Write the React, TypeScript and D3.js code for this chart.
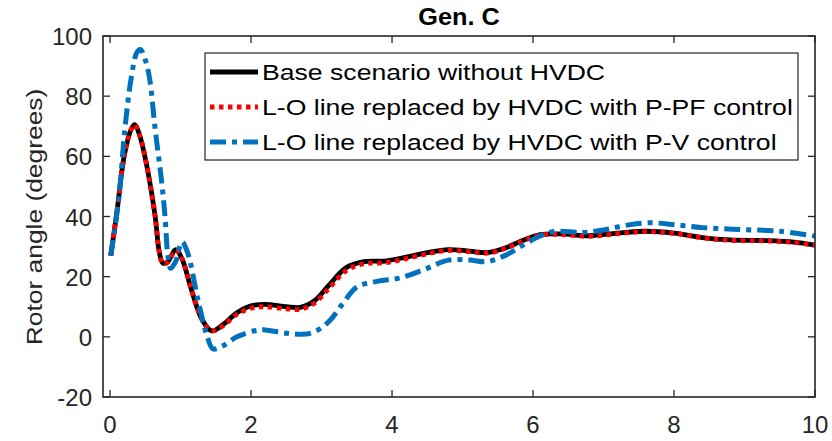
import React from "react";
import * as d3 from "d3";

const baseT = [0.01, 0.1, 0.2, 0.3, 0.35, 0.42, 0.52, 0.64, 0.7, 0.75, 0.82, 0.93, 1.02, 1.15, 1.3, 1.44, 1.6, 1.8, 2.0, 2.2, 2.5, 2.7, 2.9, 3.1, 3.35, 3.6, 3.9, 4.2, 4.5, 4.8, 5.1, 5.35, 5.6, 5.85, 6.1, 6.4, 6.8, 7.2, 7.6, 8.0, 8.4, 8.8, 9.3, 9.7, 10];
const baseV = [27, 42, 60, 69, 70.5, 67, 57, 40, 28, 24.5, 25, 29, 26, 16, 6, 2, 4, 8, 10.3, 10.8, 10, 9.8, 12, 17, 23, 25, 25.2, 26.5, 28, 29, 28.5, 28, 29.5, 32, 34, 34.2, 33.6, 34.5, 35.1, 34.5, 33, 32.2, 32, 31.5, 30.5];
const ppfV = [27, 42, 60, 69, 70.5, 67, 57, 40, 28, 24.3, 24.8, 28.8, 26, 16, 6, 2, 3.6, 7.5, 9.5, 10, 9.3, 9.2, 11.2, 16, 22, 24.3, 24.6, 26, 27.6, 28.7, 28.3, 27.8, 29.3, 31.8, 33.8, 34, 33.4, 34.3, 35, 34.4, 32.9, 32.1, 31.9, 31.4, 30.4];
const pvT = [0.01, 0.12, 0.21, 0.3, 0.38, 0.43, 0.5, 0.56, 0.64, 0.73, 0.78, 0.82, 0.86, 0.93, 1.02, 1.1, 1.25, 1.38, 1.46, 1.6, 1.8, 2.05, 2.2, 2.5, 2.85, 3.1, 3.3, 3.5, 3.8, 4.1, 4.45, 4.8, 5.1, 5.35, 5.6, 5.86, 6.1, 6.3, 6.7, 7.0, 7.3, 7.65, 8.0, 8.4, 8.9, 9.5, 10];
const pvV = [27, 45, 69, 86, 94.5, 95.5, 92, 86, 69, 52, 40, 27, 22.8, 25, 31.5, 28, 12, 0, -4, -3, 0, 2, 2.3, 1.2, 1.2, 5, 11, 16.5, 18.5, 19.5, 22.3, 25.5, 25.5, 25, 27, 30.5, 33.5, 35, 34.7, 35.5, 37, 37.9, 37.3, 36.3, 35.7, 35.1, 33.5];

const xTicks = [0, 2, 4, 6, 8, 10];
const yTicks = [-20, 0, 20, 40, 60, 80, 100];
const legendLabels = [
  "Base scenario without HVDC",
  "L-O line replaced by HVDC with P-PF control",
  "L-O line replaced by HVDC with P-V control",
];

export default function App() {
  const W = 832, H = 441;
  const L = 103, R = 815, T = 36, B = 397;
  const x = d3.scaleLinear().domain([-0.1, 10]).range([L, R]);
  const y = d3.scaleLinear().domain([-20, 100]).range([B, T]);
  const line = d3.line<[number, number]>().x(d => x(d[0])).y(d => y(d[1])).curve(d3.curveCatmullRom.alpha(0.5));
  const basePath = line(baseT.map((t, i) => [t, baseV[i]]))!;
  const ppfPath = line(baseT.map((t, i) => [t, ppfV[i]]))!;
  const pvPath = line(pvT.map((t, i) => [t, pvV[i]]))!;
  const axisColor = "#262626";
  const font = "Liberation Sans, Arial, sans-serif";
  const tl = 7;
  const styles = [
    { stroke: "#000", width: 4.8, dash: "" },
    { stroke: "#ff0000", width: 4.8, dash: "4.5 4.5" },
    { stroke: "#0072BD", width: 5, dash: "16 6 5 6" },
  ];
  return (
    <svg width={W} height={H} style={{ position: "absolute", left: 0, top: 0, background: "#fff" }}>
      <rect x={0} y={0} width={W} height={H} fill="#fff" />
      <defs>
        <clipPath id="clip"><rect x={L} y={T} width={R - L} height={B - T} /></clipPath>
      </defs>
      <g clipPath="url(#clip)">
        <path d={basePath} fill="none" stroke={styles[0].stroke} strokeWidth={styles[0].width} />
        <path d={ppfPath} fill="none" stroke={styles[1].stroke} strokeWidth={styles[1].width} strokeDasharray={styles[1].dash} />
        <path d={pvPath} fill="none" stroke={styles[2].stroke} strokeWidth={styles[2].width} strokeDasharray={styles[2].dash} />
      </g>
      <rect x={L} y={T} width={R - L} height={B - T} fill="none" stroke={axisColor} strokeWidth={1.6} />
      {xTicks.map(t => (
        <g key={"x" + t}>
          <line x1={x(t)} x2={x(t)} y1={B} y2={B - tl} stroke={axisColor} strokeWidth={1.3} />
          <line x1={x(t)} x2={x(t)} y1={T} y2={T + tl} stroke={axisColor} strokeWidth={1.3} />
          <text x={x(t)} y={433} textAnchor="middle" fontFamily={font} fontSize={24} fill={axisColor}>{t}</text>
        </g>
      ))}
      {yTicks.map(t => (
        <g key={"y" + t}>
          <line x1={L} x2={L + tl} y1={y(t)} y2={y(t)} stroke={axisColor} strokeWidth={1.3} />
          <line x1={R} x2={R - tl} y1={y(t)} y2={y(t)} stroke={axisColor} strokeWidth={1.3} />
          <text x={92} y={y(t) + 9} textAnchor="end" fontFamily={font} fontSize={24} fill={axisColor}>{t}</text>
        </g>
      ))}
      <text transform="translate(459,25) scale(1.1,1)" textAnchor="middle" fontFamily={font} fontSize={23} fontWeight="bold" fill="#000">Gen. C</text>
      <text transform="translate(42,217) rotate(-90) scale(1.2,1)" textAnchor="middle" fontFamily={font} fontSize={22} fill={axisColor}>Rotor angle (degrees)</text>
      <rect x={205} y={53} width={593} height={107} fill="#fff" stroke={axisColor} strokeWidth={1.2} />
      {legendLabels.map((lab, i) => {
        const ly = 72 + i * 35;
        return (
          <g key={lab}>
            <line x1={210} x2={258} y1={ly} y2={ly} stroke={styles[i].stroke} strokeWidth={styles[i].width} strokeDasharray={styles[i].dash} />
            <text transform={`translate(262,${ly + 8}) scale(1.21,1)`} fontFamily={font} fontSize={22} fill="#000">{lab}</text>
          </g>
        );
      })}
    </svg>
  );
}
